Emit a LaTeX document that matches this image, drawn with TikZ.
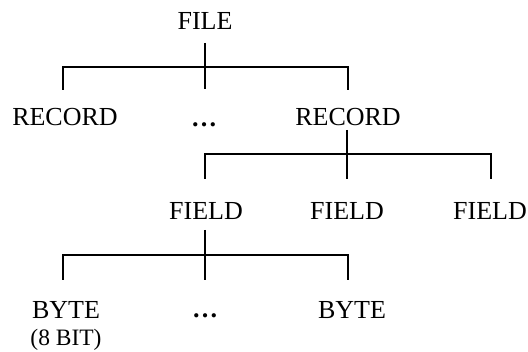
\documentclass[tikz,border=0pt]{standalone}
\usepackage{fontspec}
\setmainfont{Liberation Serif}
\begin{document}
\begin{tikzpicture}[x=1pt,y=-1pt,
  lbl/.style={anchor=base, inner sep=0pt, font=\fontsize{26}{30}\selectfont},
  small/.style={anchor=base, inner sep=0pt, font=\fontsize{23.5}{28}\selectfont},
  dots/.style={anchor=base, inner sep=0pt, font=\fontsize{26}{30}\selectfont\bfseries},
  conn/.style={line width=1.8pt}]
\useasboundingbox (0,0) rectangle (528,352);
% nodes
\node[lbl] (file) at (205,30) {FILE};
\node[lbl] (rec1) at (65,126) {RECORD};
\node[dots] (dots1) at (204,127) {…};
\node[lbl] (rec2) at (348,126) {RECORD};
\node[lbl] (fld1) at (206,220) {FIELD};
\node[lbl] (fld2) at (347,220) {FIELD};
\node[lbl] (fld3) at (490,220) {FIELD};
\node[lbl] (byte1) at (66,319) {BYTE};
\node[small] (bit) at (66,346) {(8 BIT)};
\node[dots] (dots2) at (205,318) {…};
\node[lbl] (byte2) at (352,319) {BYTE};
% connector points
\coordinate (fileT) at (205,43);
\coordinate (fileB) at (205,89);
\coordinate (r1B) at (63,90);
\coordinate (r1T) at (63,67);
\coordinate (r2T) at (348,67);
\coordinate (r2B) at (348,90);
\coordinate (recT) at (347,130);
\coordinate (recB) at (347,179);
\coordinate (f1B) at (205,179);
\coordinate (f1T) at (205,154);
\coordinate (f3T) at (491,154);
\coordinate (f3B) at (491,179);
\coordinate (fldT) at (205,230);
\coordinate (fldB) at (205,280);
\coordinate (b1B) at (63,280);
\coordinate (b1T) at (63,255);
\coordinate (b2T) at (348,255);
\coordinate (b2B) at (348,280);
% connectors
\draw[conn] (fileT) -- (fileB);
\draw[conn] (r1B) -- (r1T) -- (r2T) -- (r2B);
\draw[conn] (recT) -- (recB);
\draw[conn] (f1B) -- (f1T) -- (f3T) -- (f3B);
\draw[conn] (fldT) -- (fldB);
\draw[conn] (b1B) -- (b1T) -- (b2T) -- (b2B);
\end{tikzpicture}
\end{document}
